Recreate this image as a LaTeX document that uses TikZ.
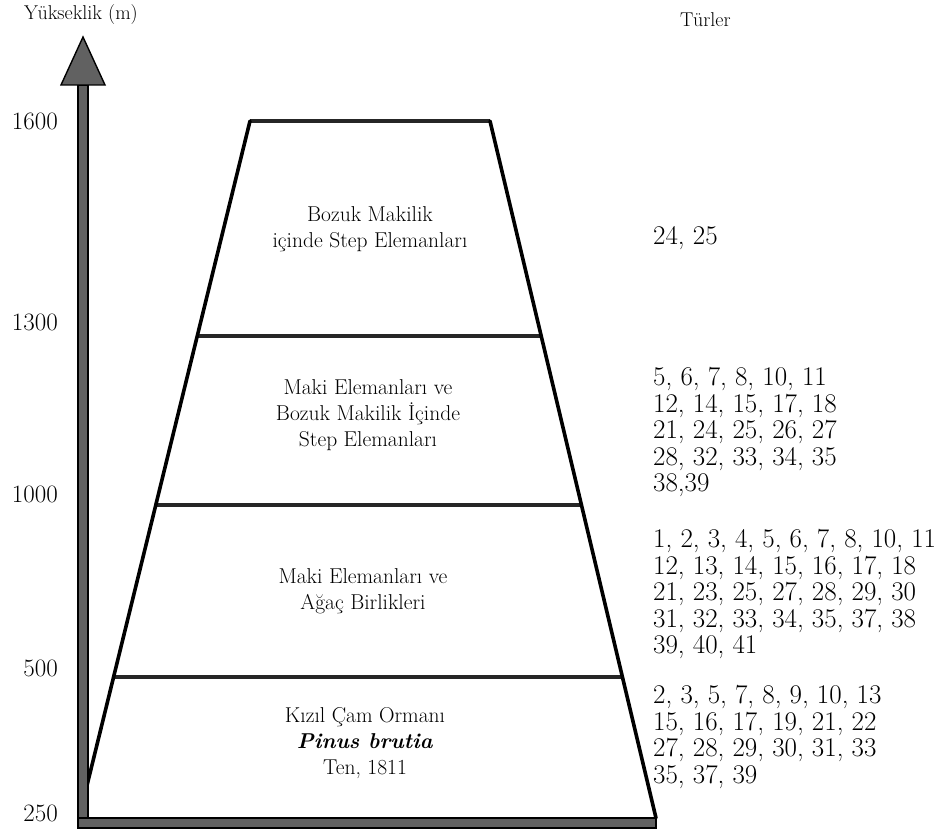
\documentclass[tikz,border=0pt]{standalone}
\usetikzlibrary{calc}
\begin{document}
\begin{tikzpicture}[x=1pt,y=-1pt,
  sideline/.style={line width=3.6pt, black, line cap=round},
  bandline/.style={line width=4pt, draw=black!85},
  axisfill/.style={fill=black!62, draw=black, line width=1.4pt},
  ticklabel/.style={anchor=east, font=\fontsize{25}{28}\selectfont, inner sep=0pt},
  zonetext/.style={align=center, font=\fontsize{21.5}{26}\selectfont, inner sep=0pt},
  specieslist/.style={align=left, anchor=west, font=\fontsize{27}{26.5}\selectfont, inner sep=0pt},
  headtext/.style={font=\fontsize{20}{22}\selectfont, inner sep=0pt}]
\useasboundingbox (0,0) rectangle (943,829);
% trapezoid corners
\coordinate (TL) at (250,121);
\coordinate (TR) at (490,121);
\coordinate (BL) at (79,818);
\coordinate (BR) at (656,818);
% level boundaries
\coordinate (L1300) at ($(TL)!0.3085!(BL)$);
\coordinate (R1300) at ($(TR)!0.3085!(BR)$);
\coordinate (L1000) at ($(TL)!0.551!(BL)$);
\coordinate (R1000) at ($(TR)!0.551!(BR)$);
\coordinate (L500) at ($(TL)!0.7977!(BL)$);
\coordinate (R500) at ($(TR)!0.7977!(BR)$);
% bands
\draw[bandline] (TL) -- (TR);
\draw[bandline] (L1300) -- (R1300);
\draw[bandline] (L1000) -- (R1000);
\draw[bandline] (L500) -- (R500);
% sides
\draw[sideline] (TL) -- (BL);
\draw[sideline] (TR) -- (BR);
% axis shaft, arrow head and base bar
\filldraw[axisfill] (78,85) rectangle (88,828);
\filldraw[axisfill] (83,37) -- (105,85) -- (61,85) -- cycle;
\filldraw[axisfill] (78,818) rectangle (656,828);
% headings
\node[headtext] (yhead) at (81,15) {Yükseklik (m)};
\node[headtext, anchor=west] (thead) at (680,20) {Türler};
% axis labels
\node[ticklabel] (t1600) at (58,121) {1600};
\node[ticklabel] (t1300) at (58,322) {1300};
\node[ticklabel] (t1000) at (58,494) {1000};
\node[ticklabel] (t500) at (58,668) {500};
\node[ticklabel] (t250) at (58,813) {250};
% zone texts
\node[zonetext] (z1) at (370,229) {Bozuk Makilik\\içinde Step Elemanları};
\node[zonetext] (z2) at (368,415) {Maki Elemanları ve\\Bozuk Makilik İçinde\\Step Elemanları};
\node[zonetext] (z3) at (363,591) {Maki Elemanları ve\\Ağaç Birlikleri};
\node[zonetext] (z4) at (365,743) {Kızıl Çam Ormanı\\\textbf{\textit{Pinus brutia}}\\Ten, 1811};
% species lists
\node[specieslist] (s1) at (653,238) {24, 25};
\node[specieslist] (s2) at (653,432) {5, 6, 7, 8, 10, 11\\12, 14, 15, 17, 18\\21, 24, 25, 26, 27\\28, 32, 33, 34, 35\\38,39};
\node[specieslist] (s3) at (653,594) {1, 2, 3, 4, 5, 6, 7, 8, 10, 11\\12, 13, 14, 15, 16, 17, 18\\21, 23, 25, 27, 28, 29, 30\\31, 32, 33, 34, 35, 37, 38\\39, 40, 41};
\node[specieslist] (s4) at (653,737) {2, 3, 5, 7, 8, 9, 10, 13\\15, 16, 17, 19, 21, 22\\27, 28, 29, 30, 31, 33\\35, 37, 39};
\end{tikzpicture}
\end{document}
